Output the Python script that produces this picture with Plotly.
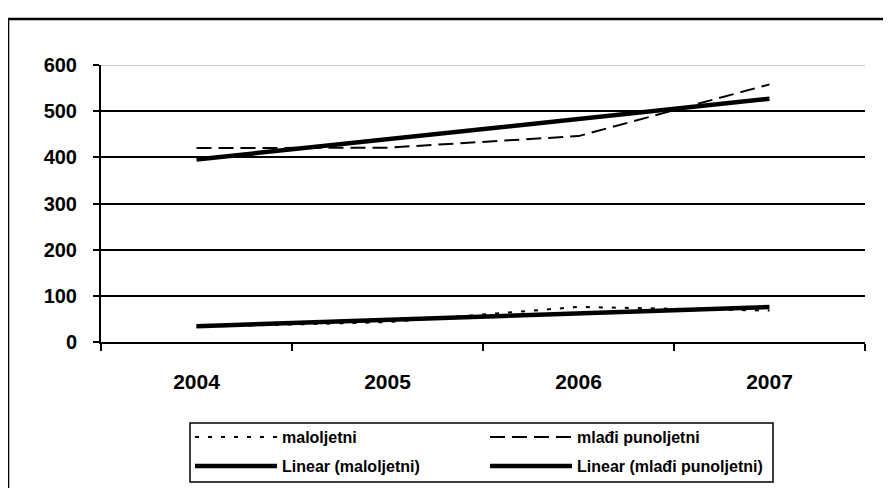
import numpy as np
import plotly.graph_objects as go

years = ["2004", "2005", "2006", "2007"]
maloljetni = [33, 43, 76, 68]
mladi_punoljetni = [420, 421, 446, 558]
y_ticks = [0, 100, 200, 300, 400, 500, 600]

def linear_fit(vals):
    idx = np.arange(len(vals))
    k, b = np.polyfit(idx, vals, 1)
    return list(k * idx + b)

FONT = "Liberation Sans, Arial, sans-serif"
leg_font = dict(family=FONT, size=16, weight="bold", color="black")

fig = go.Figure()
fig.add_trace(go.Scatter(x=years, y=maloljetni, mode="lines", name="maloljetni", legend="legend",
                         line=dict(color="black", width=2, dash="4px,9px")))
fig.add_trace(go.Scatter(x=years, y=mladi_punoljetni, mode="lines", name="mlađi punoljetni",
                         legend="legend", line=dict(color="black", width=2, dash="15px,7px")))
fig.add_trace(go.Scatter(x=years, y=linear_fit(maloljetni), mode="lines", legend="legend2",
                         name="Linear (maloljetni)", line=dict(color="black", width=4.5)))
fig.add_trace(go.Scatter(x=years, y=linear_fit(mladi_punoljetni), mode="lines", legend="legend2",
                         name="Linear (mlađi punoljetni)", line=dict(color="black", width=4.5)))

common_leg = dict(orientation="h", xanchor="left", yanchor="middle", x=0.1165,
                  bgcolor="rgba(0,0,0,0)", borderwidth=0, font=leg_font,
                  itemwidth=82, entrywidth=198, traceorder="normal")

fig.update_layout(
    width=875, height=480,
    margin=dict(l=93, r=18, t=57, b=146, autoexpand=False),
    paper_bgcolor="white", plot_bgcolor="white",
    font=dict(family=FONT, color="black"),
    showlegend=True,
    legend=dict(common_leg, y=-0.343),
    legend2=dict(common_leg, y=-0.4477),
    shapes=[
        dict(type="line", xref="paper", yref="y", x0=0, x1=1, y0=600, y1=600,
             line=dict(color="#c8c8c8", width=2), layer="above"),
        dict(type="rect", xref="paper", yref="paper", x0=-0.1217, x1=1.06, y0=-0.62, y1=1.166,
             line=dict(color="black", width=2.5), fillcolor="rgba(0,0,0,0)", layer="below"),
        dict(type="rect", xref="paper", yref="paper", x0=0.1165, x1=0.8796, y0=-0.5054, y1=-0.2924,
             line=dict(color="black", width=1.5), fillcolor="rgba(0,0,0,0)", layer="below"),
    ],
)
fig.update_xaxes(type="category", range=[-0.5, 3.5], showgrid=False,
                 showline=True, linecolor="black", linewidth=2,
                 ticks="outside", tickson="boundaries", ticklen=7, tickwidth=2, tickcolor="black",
                 tickfont=dict(family=FONT, size=21, weight="bold", color="black"),
                 ticklabelstandoff=20, zeroline=False)
fig.update_yaxes(range=[0, 600], tickvals=y_ticks, showgrid=True, gridcolor="black", gridwidth=2,
                 showline=True, linecolor="black", linewidth=2,
                 ticks="outside", ticklen=6, tickwidth=2, tickcolor="black",
                 tickfont=dict(family=FONT, size=20, weight="bold", color="black"),
                 ticklabelstandoff=12, zeroline=False)

fig.write_html("out.html")
